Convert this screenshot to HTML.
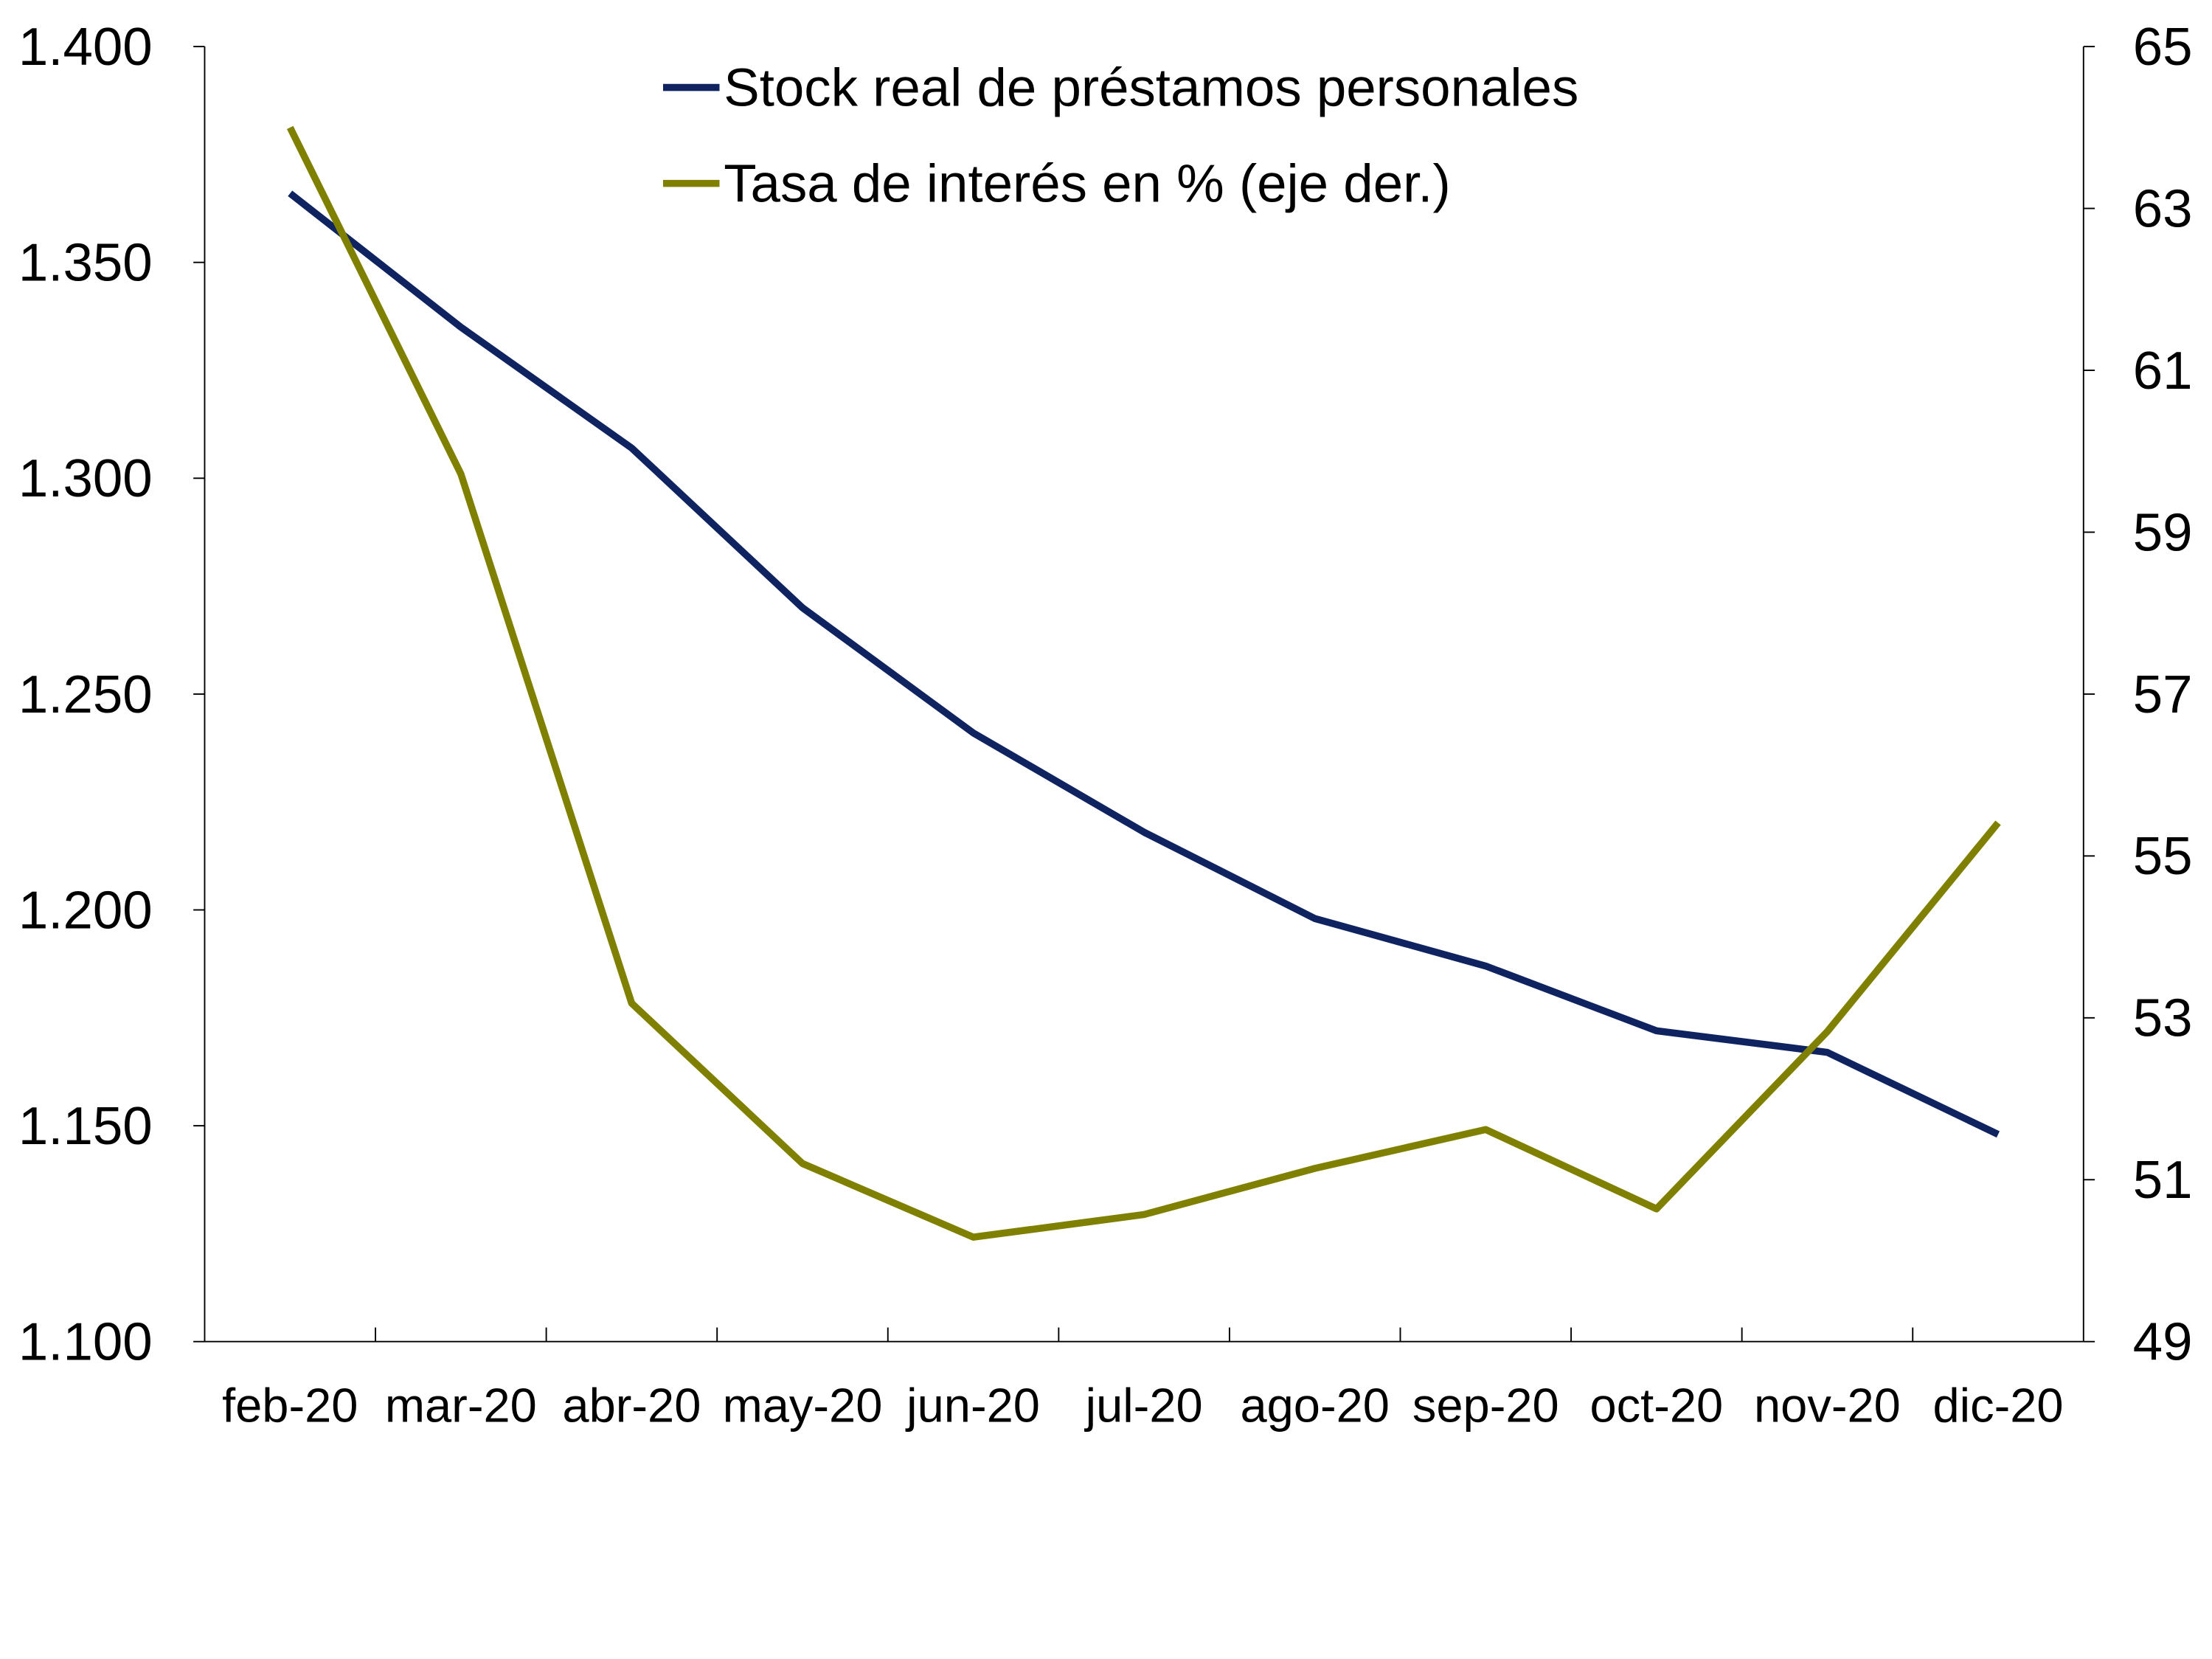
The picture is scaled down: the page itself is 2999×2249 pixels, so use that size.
<!DOCTYPE html>
<html><head><meta charset="utf-8">
<style>
html,body{margin:0;padding:0;background:#fff;}
svg{display:block;font-family:"Liberation Sans",sans-serif;}
</style></head>
<body>
<svg id="chart" width="2999" height="2249" viewBox="0 0 1568 1176" xmlns="http://www.w3.org/2000/svg">
<rect width="1568" height="1176" fill="#fff"/>
<g id="axes"></g>
<g id="series"></g>
<g id="legend">
  <line x1="470" y1="62" x2="510" y2="62" stroke="#0f2361" stroke-width="5"/>
  <text x="513" y="75" font-size="38" fill="#000">Stock real de préstamos personales</text>
  <line x1="470" y1="130" x2="510" y2="130" stroke="#808000" stroke-width="5"/>
  <text x="513" y="143" font-size="38" fill="#000">Tasa de interés en % (eje der.)</text>
</g>
</svg>
<script>
const categories = ["feb-20","mar-20","abr-20","may-20","jun-20","jul-20","ago-20","sep-20","oct-20","nov-20","dic-20"];
const stockValues = [1.366,1.335,1.307,1.270,1.241,1.218,1.198,1.187,1.172,1.167,1.148];
const rateValues = [64.0,59.72,53.18,51.2,50.29,50.57,51.14,51.62,50.64,52.83,55.41];
const leftTicks = [1.100,1.150,1.200,1.250,1.300,1.350,1.400];
const leftTickLabels = ["1.100","1.150","1.200","1.250","1.300","1.350","1.400"];
const rightTicks = [49,51,53,55,57,59,61,63,65];

const NS = "http://www.w3.org/2000/svg";
const L = 145, R = 1477, T = 33, B = 951;
const band = (R - L) / categories.length;
const xC = i => L + band * (i + 0.5);
const yL = v => B - (v - 1.1) / (1.4 - 1.1) * (B - T);
const yR = v => B - (v - 49) / (65 - 49) * (B - T);

function mk(tag, attrs, parent){
  const e = document.createElementNS(NS, tag);
  for (const k in attrs) e.setAttribute(k, attrs[k]);
  parent.appendChild(e);
  return e;
}
const axes = document.getElementById('axes');
const series = document.getElementById('series');

let e = mk('line',{x1:L,y1:T,x2:L,y2:B,stroke:'#000','stroke-width':1},axes);


e = mk('line',{x1:R,y1:T,x2:R,y2:B,stroke:'#000','stroke-width':1},axes);


e = mk('line',{x1:L,y1:B,x2:R,y2:B,stroke:'#000','stroke-width':1},axes);



leftTicks.forEach((v,i)=>{
  const y = yL(v);
  let t = mk('line',{x1:L-8,y1:y,x2:L,y2:y,stroke:'#000','stroke-width':1},axes);
  
  
  let tx = mk('text',{x:108,y:y+13,'font-size':38,'text-anchor':'end',fill:'#000'},axes);
  tx.textContent = leftTickLabels[i];
  
  
});
rightTicks.forEach(v=>{
  const y = yR(v);
  let t = mk('line',{x1:R,y1:y,x2:R+8,y2:y,stroke:'#000','stroke-width':1},axes);
  
  
  let tx = mk('text',{x:1512,y:y+13,'font-size':38,fill:'#000'},axes);
  tx.textContent = String(v);
  
  
});
categories.forEach((c,i)=>{
  if (i>0){
    const x = L + band*i;
    let t = mk('line',{x1:x,y1:B-10,x2:x,y2:B,stroke:'#000','stroke-width':1},axes);
    
    
  }
  let tx = mk('text',{x:xC(i),y:1008,'font-size':34,'text-anchor':'middle',fill:'#000'},axes);
  tx.textContent = c;
  
  
});

let p1 = mk('polyline',{points:stockValues.map((v,i)=>xC(i)+','+yL(v)).join(' '),fill:'none',stroke:'#0f2361','stroke-width':5,'stroke-linejoin':'round'},series);


let p2 = mk('polyline',{points:rateValues.map((v,i)=>xC(i)+','+yR(v)).join(' '),fill:'none',stroke:'#808000','stroke-width':5,'stroke-linejoin':'round'},series);


</script>
</body></html>
